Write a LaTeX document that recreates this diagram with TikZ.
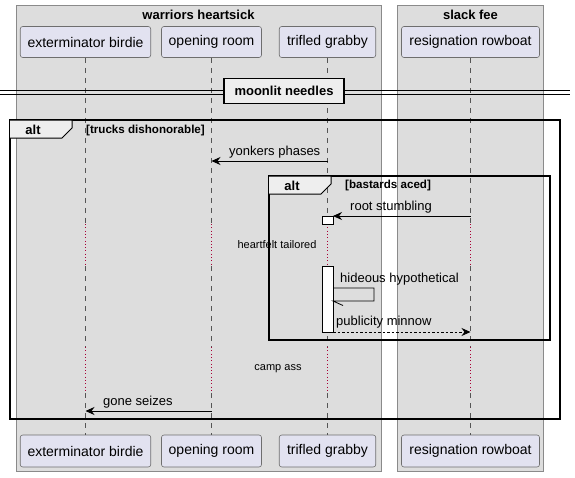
\documentclass[tikz,border=0pt]{standalone}
\usepackage{fontspec}
\setmainfont{Liberation Sans}
\usetikzlibrary{arrows.meta}
\definecolor{grpfill}{HTML}{DDDDDD}
\definecolor{grpline}{HTML}{8A8A8A}
\definecolor{partfill}{HTML}{E2E2F0}
\definecolor{partline}{HTML}{6E6E6E}
\definecolor{tabfill}{HTML}{EEEEEE}
\definecolor{delayred}{HTML}{A80036}
\definecolor{lifegray}{HTML}{555555}
\begin{document}
\begin{tikzpicture}[x=1pt,y=-1pt,
  grp/.style={draw=grpline, fill=grpfill, line width=0.6pt},
  grptitle/.style={font=\fontsize{13}{15}\selectfont\bfseries, inner sep=0pt},
  part/.style={draw=partline, fill=partfill, rounded corners=2.5pt, line width=0.6pt, inner sep=0pt, font=\fontsize{14}{16}\selectfont},
  life/.style={draw=lifegray, dash pattern=on 5pt off 5pt, line width=0.6pt},
  delayline/.style={draw=delayred, dash pattern=on 0.9pt off 2.4pt, line width=0.9pt},
  msg/.style={draw=black, line width=0.8pt, -{Stealth[length=9pt,width=8pt,inset=3pt]}},
  rmsg/.style={msg, dash pattern=on 2.5pt off 2pt},
  lbl/.style={font=\fontsize{13}{15}\selectfont, inner sep=0pt, anchor=west},
  delaytxt/.style={font=\fontsize{11}{13}\selectfont, inner sep=0pt},
  frameline/.style={draw=black, line width=1.3pt},
  tab/.style={draw=black, fill=tabfill, line width=1pt},
  tabtxt/.style={font=\fontsize{13}{15}\selectfont\bfseries, inner sep=0pt},
  cond/.style={font=\fontsize{11.6}{13}\selectfont\bfseries, inner sep=0pt, anchor=west},
  act/.style={draw=black, fill=white, line width=0.8pt},
  divbox/.style={draw=black, fill=tabfill, line width=1.6pt, inner sep=0pt, minimum width=120pt, minimum height=25pt, font=\fontsize{13}{15}\selectfont\bfseries}
]
\useasboundingbox (0,0) rectangle (575,477);
\fill[white] (0,0) rectangle (575,477);

% group boxes
\draw[grp] (16,5) rectangle (381,471);
\node[grptitle] (g1t) at (198.5,15) {warriors heartsick};
\draw[grp] (397,5) rectangle (543.5,471);
\node[grptitle] (g2t) at (470.5,15) {slack fee};

% participants
\node[part, minimum width=130.5pt, minimum height=31pt] (p1) at (85.5,42) {exterminator birdie};
\node[part, minimum width=100pt, minimum height=31pt] (p2) at (211.5,42) {opening room};
\node[part, minimum width=96.5pt, minimum height=31pt] (p3) at (327.5,42) {trifled grabby};
\node[part, minimum width=138pt, minimum height=31pt] (p4) at (470.5,42) {resignation rowboat};
\node[part, minimum width=130.5pt, minimum height=32pt] (q1) at (85.5,451) {exterminator birdie};
\node[part, minimum width=100pt, minimum height=32pt] (q2) at (211.5,451) {opening room};
\node[part, minimum width=96.5pt, minimum height=32pt] (q3) at (327.5,451) {trifled grabby};
\node[part, minimum width=138pt, minimum height=32pt] (q4) at (470.5,451) {resignation rowboat};

% delay levels
\coordinate (da) at (0,224);
\coordinate (db) at (0,266);
\coordinate (dc) at (0,347);
\coordinate (dd) at (0,393);

% lifelines
\foreach \p/\q in {p1/q1,p2/q2,p3/q3,p4/q4}{
  \draw[life] (\p.south) -- (\p.south |- da);
  \draw[delayline] (\p.south |- da) -- (\p.south |- db);
  \draw[life] (\p.south |- db) -- (\p.south |- dc);
  \draw[delayline] (\p.south |- dc) -- (\p.south |- dd);
  \draw[life] (\p.south |- dd) -- (\q.north);
}

% divider
\draw[black, line width=0.9pt] (0,90) -- (570,90);
\draw[black, line width=0.9pt] (0,94) -- (570,94);
\node[divbox] (div) at (284,91) {moonlit needles};

% outer alt
\draw[frameline] (10,120) rectangle (560,419);
\draw[tab] (10,120) -- (72,120) -- (72,128) -- (62,138) -- (10,138);
\node[tabtxt] (alt1) at (33,130) {alt};
\node[cond] (c1) at (86,130) {[trucks dishonorable]};

% inner alt
\draw[frameline] (269,176) rectangle (550,340);
\draw[tab] (269,176) -- (331,176) -- (331,184) -- (321,194) -- (269,194);
\node[tabtxt] (alt2) at (292,186) {alt};
\node[cond] (c2) at (345,185) {[bastards aced]};

% activations
\draw[act] (322.5,216) rectangle (333,224);
\draw[act] (322.5,266) rectangle (333,332);

% message end points
\coordinate (m1s) at (p3.south |- 0,161);
\coordinate (m1e) at (p2.south |- 0,161);
\coordinate (m2s) at (p4.south |- 0,216);
\coordinate (m2e) at (333,216);
\coordinate (m3a) at (333,288);
\coordinate (m3b) at (374,288);
\coordinate (m3c) at (374,301);
\coordinate (m3d) at (333,301);
\coordinate (m3h) at (343,305.5);
\coordinate (m4s) at (333,332);
\coordinate (m4e) at (p4.south |- 0,332);
\coordinate (m5s) at (p2.south |- 0,411);
\coordinate (m5e) at (p1.south |- 0,411);

% messages
\draw[msg] (m1s) -- (m1e);
\node[lbl] (l1) at (229,152) {yonkers phases};
\draw[msg] (m2s) -- (m2e);
\node[lbl] (l2) at (350,207) {root stumbling};
\draw[black, line width=0.8pt] (m3a) -- (m3b) -- (m3c) -- (m3d) -- (m3h);
\node[lbl] (l3) at (340,279) {hideous hypothetical};
\draw[rmsg] (m4s) -- (m4e);
\node[lbl] (l4) at (336,322) {publicity minnow};
\draw[msg] (m5s) -- (m5e);
\node[lbl] (l5) at (103,402) {gone seizes};

% delay texts
\node[delaytxt] (d1) at (277,245) {heartfelt tailored};
\node[delaytxt] (d2) at (278,369) {camp ass};
\end{tikzpicture}
\end{document}
